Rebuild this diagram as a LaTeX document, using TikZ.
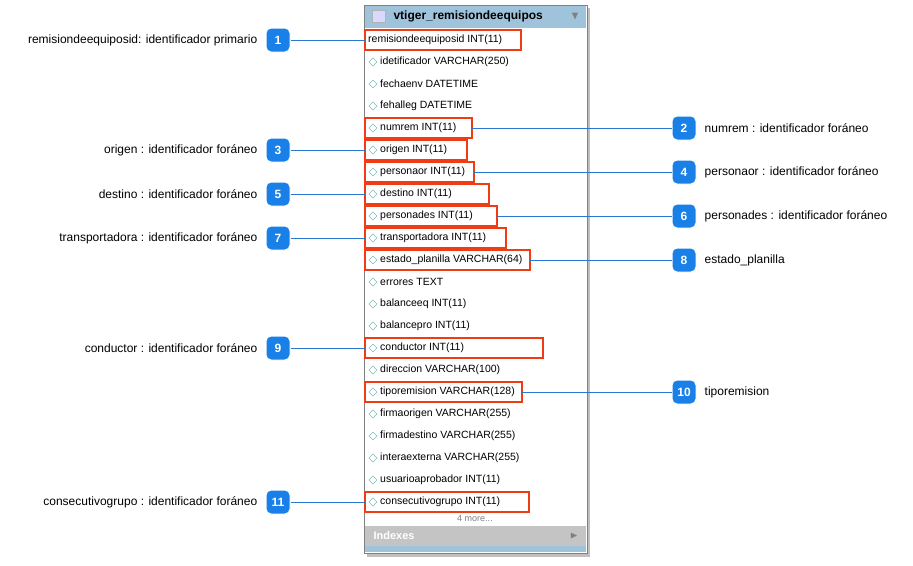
\documentclass[tikz,border=0pt]{standalone}
\usepackage{amssymb}
\usepackage{fontspec}
\setmainfont{Liberation Sans}
\usepackage{tikz}
\usetikzlibrary{positioning}

\definecolor{badgeblue}{RGB}{24,128,230}
\definecolor{linkblue}{RGB}{40,120,210}
\definecolor{boxred}{RGB}{240,60,20}
\definecolor{headblue}{RGB}{160,195,220}
\definecolor{idxgray}{RGB}{196,196,196}

\tikzset{
  badge/.style={fill=badgeblue,draw=white,line width=1pt,rounded corners=5pt,minimum size=24pt,text=white,font=\fontsize{12}{12}\selectfont\bfseries,inner sep=0pt},
  lbl/.style={font=\fontsize{12}{14}\selectfont,inner sep=0pt},
  rowtxt/.style={font=\fontsize{10.5}{12}\selectfont,anchor=west,inner sep=0pt},
  keybox/.style={draw=boxred,line width=1.6pt},
  link/.style={draw=linkblue,line width=0.7pt}
}

\begin{document}
\begin{tikzpicture}[x=1pt,y=-1pt]
\useasboundingbox (0,0) rectangle (913,565);

% table
\fill[black!25] (367,8) rectangle (590,557);
\draw[gray,fill=white] (364,5) rectangle (587,553);
\fill[headblue] (365,6) rectangle (586,28);
\fill[idxgray] (365,526) rectangle (586,546);
\fill[headblue] (365,546) rectangle (586,552);
\draw[gray!60,fill=blue!15] (372,10) rectangle (385,22);
\node[anchor=west,font=\fontsize{12}{12}\selectfont\bfseries] (title) at (390,16) {vtiger\_remisiondeequipos};
\node[font=\fontsize{11}{11}\selectfont,text=gray] (arr) at (575,16) {$\blacktriangledown$};
\node[anchor=west,font=\fontsize{11}{11}\selectfont\bfseries,text=white] (idx) at (370,536) {Indexes};
\node[font=\fontsize{10}{10}\selectfont,text=gray] (idxarr) at (574,536) {$\blacktriangleright$};
\node[font=\fontsize{9}{9}\selectfont,text=gray] (more) at (475,518) {4 more...};

\node[rowtxt] (r0) at (368,40) {remisiondeequiposid INT(11)};
\foreach \t [count=\i] in {idetificador VARCHAR(250),fechaenv DATETIME,fehalleg DATETIME,
  numrem INT(11),origen INT(11),personaor INT(11),destino INT(11),personades INT(11),
  transportadora INT(11),estado\_planilla VARCHAR(64),errores TEXT,balanceeq INT(11),
  balancepro INT(11),conductor INT(11),direccion VARCHAR(100),tiporemision VARCHAR(128),
  firmaorigen VARCHAR(255),firmadestino VARCHAR(255),interaexterna VARCHAR(255),
  usuarioaprobador INT(11),consecutivogrupo INT(11)}
{
  \draw[teal!50,fill=white] (373,40+22*\i-4) -- (377,40+22*\i) -- (373,40+22*\i+4) -- (369,40+22*\i) -- cycle;
  \node[rowtxt] (r\i) at (380,40+22*\i) {\t};
}

% key boxes: row / right edge
\foreach \r/\e in {0/521,4/472,5/467,6/474,7/489,8/497,9/506,10/530,14/543,16/522,21/529}
  \draw[keybox] (365,40+22*\r-10) rectangle (\e,40+22*\r+10) coordinate (k\r);

% left badges
\foreach \n/\r/\t in {1/0/{remisiondeequiposid: identificador primario},3/5/{origen : identificador foráneo},
  5/7/{destino : identificador foráneo},7/9/{transportadora : identificador foráneo},
  9/14/{conductor : identificador foráneo},11/21/{consecutivogrupo : identificador foráneo}}
{
  \node[badge] (b\n) at (278,40+22*\r) {\n};
  \node[lbl,anchor=east,left=8pt of b\n] (t\n) {\t};
  \draw[link] (b\n.east) -- (365,40+22*\r);
}

% right badges
\foreach \n/\r/\e/\t in {2/4/472/{numrem : identificador foráneo},4/6/474/{personaor : identificador foráneo},
  6/8/497/{personades : identificador foráneo},8/10/530/{estado\_planilla},10/16/522/{tiporemision}}
{
  \node[badge] (b\n) at (684,40+22*\r) {\n};
  \node[lbl,anchor=west,right=8pt of b\n] (t\n) {\t};
  \draw[link] (b\n.west) -- (\e,40+22*\r);
}
\end{tikzpicture}
\end{document}
